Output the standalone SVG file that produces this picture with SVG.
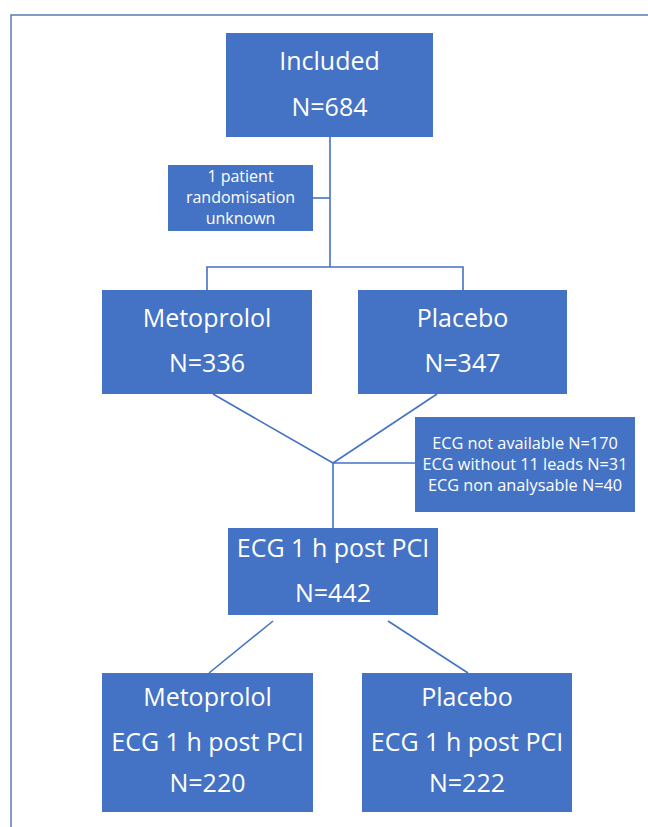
<svg xmlns="http://www.w3.org/2000/svg" width="648" height="827" viewBox="0 0 648 827">
<style>
.box{fill:#4472C4;}
.t{font-family:"Open Sans","Liberation Sans",sans-serif;fill:#ffffff;text-anchor:middle;}
.big{font-size:25px;}
.small{font-size:16px;}
.mid{font-size:16.3px;}
.line{stroke:#4472C4;stroke-width:1.6;fill:none;}
</style>
<rect x="11" y="15" width="700" height="900" fill="#ffffff" stroke="#5B7BAE" stroke-width="1.5"/>
<g id="connectors">
<line class="line" x1="330" y1="137" x2="330" y2="267"/>
<line class="line" x1="313" y1="198" x2="330" y2="198"/>
<polyline class="line" points="207,290 207,267 463,267 463,290"/>
<line class="line" x1="213" y1="394" x2="333" y2="463"/>
<line class="line" x1="437" y1="394" x2="333" y2="463"/>
<line class="line" x1="333" y1="463" x2="415" y2="463"/>
<line class="line" x1="333" y1="463" x2="333" y2="528"/>
<line class="line" x1="273" y1="621" x2="209" y2="673"/>
<line class="line" x1="388" y1="621" x2="468" y2="673"/>
</g>
<g id="included">
<rect class="box" x="226" y="33" width="207" height="104"/>
<text class="t big" x="329.5" y="70">Included</text>
<text class="t big" x="329.5" y="116">N=684</text>
</g>
<g id="unknown">
<rect class="box" x="168" y="165" width="145" height="66"/>
<text class="t small" x="240.5" y="182">1 patient</text>
<text class="t small" x="240.5" y="203">randomisation</text>
<text class="t small" x="240.5" y="224">unknown</text>
</g>
<g id="metoprolol">
<rect class="box" x="102" y="290" width="210" height="104"/>
<text class="t big" x="207" y="327">Metoprolol</text>
<text class="t big" x="207" y="372">N=336</text>
</g>
<g id="placebo">
<rect class="box" x="358" y="290" width="209" height="104"/>
<text class="t big" x="462.5" y="327">Placebo</text>
<text class="t big" x="462.5" y="372">N=347</text>
</g>
<g id="excluded">
<rect class="box" x="415" y="417" width="220" height="95"/>
<text class="t mid" x="525" y="449">ECG not available N=170</text>
<text class="t mid" x="525" y="470">ECG without 11 leads N=31</text>
<text class="t mid" x="525" y="491">ECG non analysable N=40</text>
</g>
<g id="ecg">
<rect class="box" x="228" y="528" width="210" height="87"/>
<text class="t big" x="333" y="557">ECG 1 h post PCI</text>
<text class="t big" x="333" y="602">N=442</text>
</g>
<g id="metoprolol-ecg">
<rect class="box" x="102" y="673" width="211" height="139"/>
<text class="t big" x="207.5" y="706">Metoprolol</text>
<text class="t big" x="207.5" y="751">ECG 1 h post PCI</text>
<text class="t big" x="207.5" y="792">N=220</text>
</g>
<g id="placebo-ecg">
<rect class="box" x="362" y="673" width="210" height="139"/>
<text class="t big" x="467" y="706">Placebo</text>
<text class="t big" x="467" y="751">ECG 1 h post PCI</text>
<text class="t big" x="467" y="792">N=222</text>
</g>
</svg>
